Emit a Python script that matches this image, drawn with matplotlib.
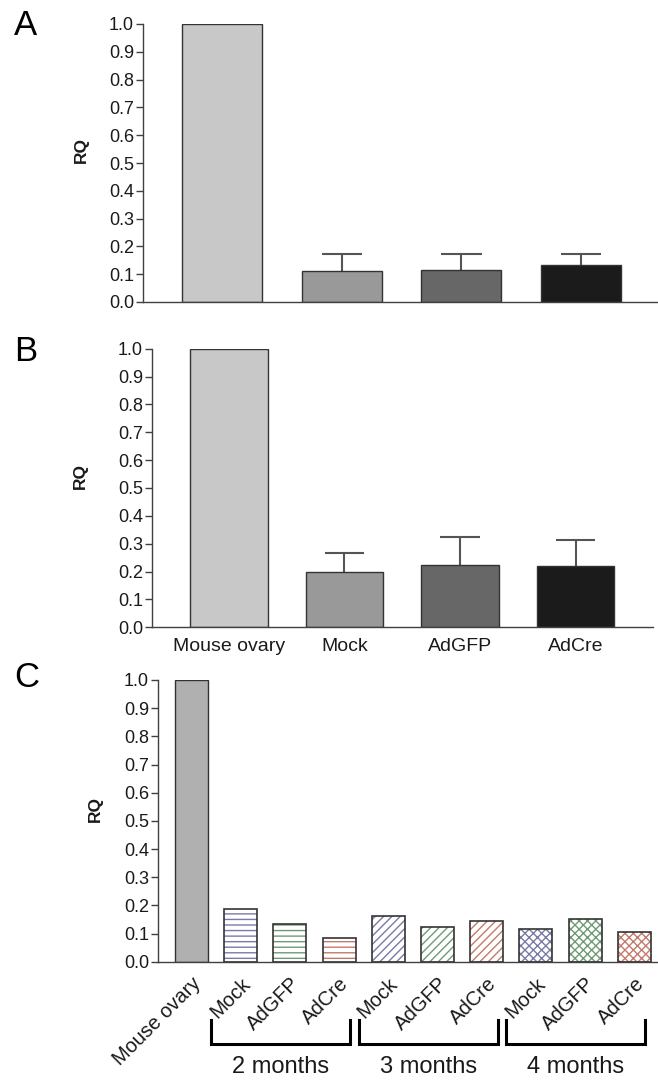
import numpy as np
import matplotlib
matplotlib.use("Agg")
import matplotlib.pyplot as plt

plt.rcParams['font.family'] = ['Liberation Sans', 'DejaVu Sans']
plt.rcParams['hatch.linewidth'] = 1.0

# --- Daten ---
gruppen_ab = ['Mouse ovary', 'Mock', 'AdGFP', 'AdCre']
farben_ab = ['#c8c8c8', '#999999', '#676767', '#1b1b1b']

werte_a = [1.0, 0.112, 0.114, 0.132]
fehler_a = [0.0, 0.060, 0.058, 0.040]

werte_b = [1.0, 0.200, 0.224, 0.221]
fehler_b = [0.0, 0.068, 0.099, 0.091]

labels_c = ['Mouse ovary', 'Mock', 'AdGFP', 'AdCre', 'Mock', 'AdGFP', 'AdCre',
            'Mock', 'AdGFP', 'AdCre']
werte_c = [1.0, 0.186, 0.133, 0.083, 0.162, 0.123, 0.144, 0.115, 0.150, 0.106]
monate = ['2 months', '3 months', '4 months']
muster = ['---', '////', 'xxxx']
schraff_farben = ['#7a7aa6', '#6f9b74', '#c47a6c']

kante = '#333333'
achse = '#404040'
textfarbe = '#1a1a1a'

fig = plt.figure(figsize=(6.58, 10.8), dpi=100)
W, H = 658, 1080


def achse_px(links, rechts, unten, oben):
    return fig.add_axes([links / W, 1 - unten / H, (rechts - links) / W, (unten - oben) / H])


def stil(ax):
    for s in ['top', 'right']:
        ax.spines[s].set_visible(False)
    for s in ['left', 'bottom']:
        ax.spines[s].set_color(achse)
        ax.spines[s].set_linewidth(1.0)
    ax.set_ylim(0, 1.0)
    ax.set_yticks(np.arange(0, 1.01, 0.1))
    ax.set_yticklabels([f'{v:.1f}' for v in np.arange(0, 1.01, 0.1)])
    ax.tick_params(axis='y', length=5, width=1, color=achse, pad=1.5,
                   labelsize=13, labelcolor=textfarbe)
    ax.tick_params(axis='x', length=0)


def panel_ab(ax, werte, fehler, mit_labels, rq_pos):
    x = np.arange(len(werte))
    ax.bar(x, werte, width=0.67, color=farben_ab, edgecolor=kante, linewidth=1.0, zorder=2)
    # nur nach oben gerichtete Fehlerbalken
    oben = np.array(werte[1:]) + np.array(fehler[1:])
    ax.vlines(x[1:], werte[1:], oben, color='#555555', linewidth=1.5, zorder=1)
    ax.hlines(oben, x[1:] - 0.17, x[1:] + 0.17, color='#555555', linewidth=1.5, zorder=1)
    stil(ax)
    ax.set_xticks(x)
    if mit_labels:
        ax.set_xticklabels(gruppen_ab, fontsize=14, color=textfarbe)
        ax.tick_params(axis='x', pad=8)
    else:
        ax.set_xticklabels([])
    ax.text(rq_pos[0], rq_pos[1], 'RQ', rotation=90, ha='center', va='center',
            transform=ax.transAxes, fontsize=12.5, fontweight='bold', color=textfarbe)


# Panel A
ax_a = achse_px(143, 658, 302, 24)
ax_a.set_xlim(-0.665, 3.645)
panel_ab(ax_a, werte_a, fehler_a, False, (-0.12, 0.547))

# Panel B
ax_b = achse_px(152, 653, 627.3, 348.7)
ax_b.set_xlim(-0.665, 3.67)
panel_ab(ax_b, werte_b, fehler_b, True, (-0.142, 0.543))

# Panel C
ax_c = achse_px(158, 658, 961.7, 680)
ax_c.set_xlim(-0.68, 9.48)
xc = np.arange(len(werte_c))
ax_c.bar(xc[0], werte_c[0], width=0.67, color='#b0b0b0', edgecolor=kante, linewidth=1.0, zorder=2)
for g in range(3):
    for t in range(3):
        i = 1 + g * 3 + t
        ax_c.bar(xc[i], werte_c[i], width=0.67, color='white', hatch=muster[g],
                 edgecolor=schraff_farben[t], linewidth=0, zorder=2)
        ax_c.bar(xc[i], werte_c[i], width=0.67, fill=False, edgecolor=kante,
                 linewidth=1.2, zorder=3)
stil(ax_c)
ax_c.set_xticks(xc)
ax_c.set_xticklabels(labels_c, fontsize=14.5, color=textfarbe, rotation=45,
                     ha='right', rotation_mode='anchor')
ax_c.tick_params(axis='x', pad=9)
ax_c.text(-0.126, 0.542, 'RQ', rotation=90, ha='center', va='center',
          transform=ax_c.transAxes, fontsize=12.5, fontweight='bold', color=textfarbe)

# Klammern für die Monate
trans = ax_c.get_xaxis_transform()
y_oben, y_unten = -0.207, -0.292
for g, name in enumerate(monate):
    x0 = 1 + g * 3 - 0.6
    x1 = 1 + g * 3 + 2 + 0.22
    ax_c.plot([x0, x0, x1, x1], [y_oben, y_unten, y_unten, y_oben], color='black',
              linewidth=2.2, transform=trans, clip_on=False, solid_joinstyle='miter')
    ax_c.text((x0 + x1) / 2, -0.374, name, transform=trans, ha='center', va='center',
              fontsize=17, color=textfarbe)

# Panel-Buchstaben
for buchstabe, y in [('A', 35), ('B', 360.5), ('C', 687)]:
    fig.text(14 / W, 1 - y / H, buchstabe, fontsize=25, va='baseline', ha='left', color='black')

fig.savefig('out.png', dpi=100)
